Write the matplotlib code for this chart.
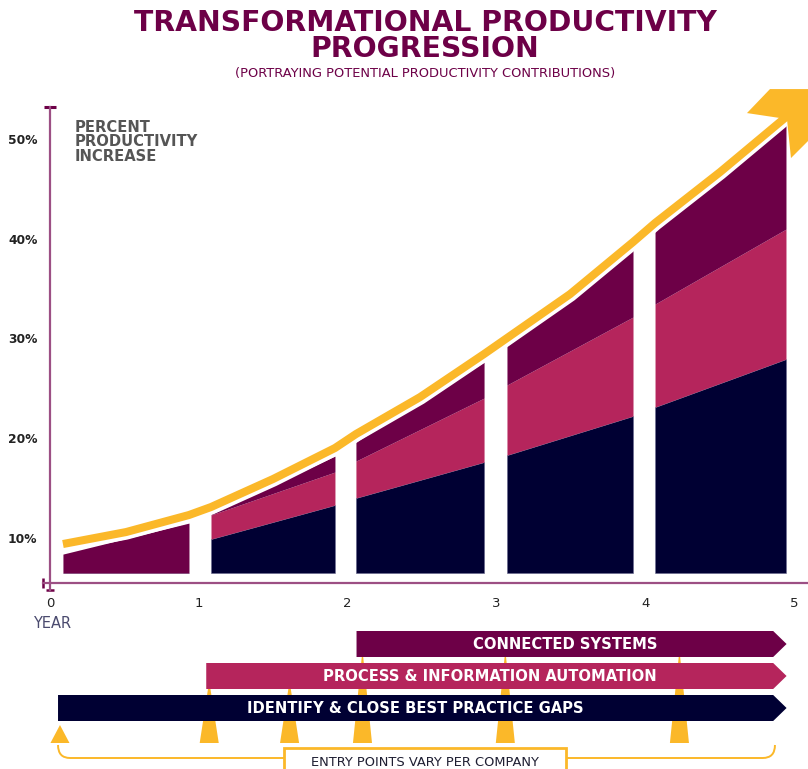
import matplotlib
matplotlib.use("Agg")
import matplotlib.pyplot as plt
import matplotlib.patheffects as pe
from matplotlib.patches import Polygon, Rectangle, PathPatch
from matplotlib.path import Path
from matplotlib.transforms import ScaledTranslation

# Colours
maroon = "#6D0047"
pink = "#B5255C"
navy = "#000033"
yellow = "#FBB829"
axis_col = "#9C4F84"

# Axis ticks
year_ticks = [0, 1, 2, 3, 4, 5]
pct_ticks = [10, 20, 30, 40, 50]
pct_labels = ["10%", "20%", "30%", "40%", "50%"]

# Stacked blocks: one block per year, value of each layer top at left / right edge
base = 6.47
bar_start = [0.087, 1.082, 2.056, 3.071, 4.066]
bar_end = [0.934, 1.915, 2.917, 3.918, 4.946]
gaps_left = [6.47, 9.88, 14.00, 18.30, 23.12]
gaps_right = [6.47, 13.29, 17.60, 22.22, 27.93]
auto_left = [6.47, 12.29, 17.70, 25.33, 33.45]
auto_right = [6.47, 16.60, 24.02, 32.15, 40.97]
conn_left = [8.37, 12.39, 19.61, 29.24, 40.77]
conn_right = [11.48, 18.20, 27.63, 38.87, 51.41]

# Trend arrow
trend_x = [0.087, 0.511, 0.934, 1.082, 1.499, 1.915, 2.056, 2.487, 2.917,
           3.071, 3.495, 3.918, 4.066, 4.503, 4.946]
trend_y = [9.38, 10.58, 12.29, 13.09, 15.90, 19.01, 20.41, 24.12, 28.44,
           30.04, 34.45, 39.67, 41.58, 46.69, 52.21]

# Bottom banners and entry points
banner_labels = ["CONNECTED SYSTEMS", "PROCESS & INFORMATION AUTOMATION",
                 "IDENTIFY & CLOSE BEST PRACTICE GAPS"]
banner_start = [2.06, 1.05, 0.054]
banner_colors = [maroon, pink, navy]
entry_years = [0.067, 1.07, 1.61, 2.10, 3.06, 4.23]
entry_row = [2, 1, 1, 0, 0, 0]

fig = plt.figure(figsize=(8.08, 7.69), dpi=100)

xmin, xmax = -0.047, 5.094
ax = fig.add_axes([43 / 808, 186 / 769, 765 / 808, 476 / 769])
ax.set_xlim(xmin, xmax)
ax.set_ylim(5.47, 53.22)
for s in ax.spines.values():
    s.set_visible(False)

# stacked blocks
for i in range(len(bar_start)):
    xs = [bar_start[i], bar_end[i]]
    ax.fill_between(xs, [base, base], [gaps_left[i], gaps_right[i]],
                    color=navy, lw=0.4, edgecolor="#6a6a90")
    ax.fill_between(xs, [gaps_left[i], gaps_right[i]], [auto_left[i], auto_right[i]],
                    color=pink, lw=0)
    ax.fill_between(xs, [auto_left[i], auto_right[i]], [conn_left[i], conn_right[i]],
                    color=maroon, lw=0)

# trend line with white halo
ax.plot(trend_x, trend_y, color=yellow, lw=5.8, solid_capstyle="butt",
        solid_joinstyle="round", zorder=5, clip_on=False,
        path_effects=[pe.Stroke(linewidth=11, foreground="white", joinstyle="round"),
                      pe.Normal()])

# arrow head (offsets in pixels, relative to end of trend line)
head_px = [(-39, -4), (-16, -28), (74, -28), (5, 41), (1, 2)]
head_in = [(dx / 100, -dy / 100) for dx, dy in head_px]
head = Polygon(head_in, closed=True, facecolor=yellow, edgecolor="none",
               transform=fig.dpi_scale_trans + ScaledTranslation(trend_x[-1], trend_y[-1], ax.transData),
               clip_on=False, zorder=6)
ax.add_patch(head)

# axis lines
ax.plot([0, 0], [4.76, 53.22], color=axis_col, lw=1.6, clip_on=False, zorder=3)
ax.plot([xmin, xmax], [5.47, 5.47], color=axis_col, lw=1.6, clip_on=False, zorder=3)
ax.plot([0], [53.22], marker="_", ms=9, mew=2.2, color=maroon, clip_on=False)
ax.plot([0], [4.76], marker="_", ms=6, mew=1.8, color=maroon, clip_on=False)
ax.plot([xmin], [5.47], marker="|", ms=7, mew=1.8, color=maroon, clip_on=False)

ax.set_yticks(pct_ticks)
ax.set_yticklabels(pct_labels, fontsize=8.8, fontweight="bold", color="#222222")
ax.set_xticks(year_ticks)
ax.set_xticklabels([str(y) for y in year_ticks], fontsize=9.5, color="#222222")
ax.tick_params(axis="y", length=0, pad=4)
ax.tick_params(axis="x", length=0, pad=10)

# titles and labels
fig.text(0.526, 1 - 23 / 769, "TRANSFORMATIONAL PRODUCTIVITY", ha="center", va="center",
         fontsize=20.3, fontweight="bold", color=maroon)
fig.text(0.526, 1 - 49 / 769, "PROGRESSION", ha="center", va="center",
         fontsize=20.3, fontweight="bold", color=maroon)
fig.text(0.526, 1 - 74 / 769, "(PORTRAYING POTENTIAL PRODUCTIVITY CONTRIBUTIONS)",
         ha="center", va="center", fontsize=9.4, color=maroon)
fig.text(75 / 808, 1 - 120 / 769, "PERCENT\nPRODUCTIVITY\nINCREASE", ha="left", va="top",
         fontsize=10.6, fontweight="bold", color="#555555", linespacing=0.95)
fig.text(33 / 808, 1 - 624 / 769, "YEAR", ha="left", va="center", fontsize=10.5,
         color="#4A4A6E")

# bottom panel
ax2 = fig.add_axes([43 / 808, 0, 765 / 808, 144 / 769])
ax2.set_xlim(xmin, xmax)
ax2.set_ylim(769, 625)
ax2.axis("off")

row_top = [631, 663, 695]
row_h = 26
row_apex = [650, 681, 725]
body_end, tip_end = 4.86, 4.95

for yr, r in zip(entry_years, entry_row):
    tri = Polygon([(yr - 0.064, 743), (yr + 0.064, 743), (yr, row_apex[r])],
                  closed=True, facecolor=yellow, edgecolor="none", zorder=1)
    ax2.add_patch(tri)

for i, label in enumerate(banner_labels):
    s = banner_start[i]
    top = row_top[i]
    bot = top + row_h
    mid = top + row_h / 2
    poly = Polygon([(s, top), (body_end, top), (tip_end, mid), (body_end, bot), (s, bot)],
                   closed=True, facecolor=banner_colors[i], edgecolor="none", zorder=2)
    ax2.add_patch(poly)
    ax2.text((s + body_end) / 2, mid + 0.5, label, ha="center", va="center",
             fontsize=10.6, fontweight="bold", color="white", zorder=3)

# bracket
left_path = Path([(0.054, 745), (0.054, 758), (0.135, 758), (1.573, 758)],
                 [Path.MOVETO, Path.CURVE3, Path.CURVE3, Path.LINETO])
right_path = Path([(3.468, 758), (4.79, 758), (4.872, 758), (4.872, 745)],
                  [Path.MOVETO, Path.LINETO, Path.CURVE3, Path.CURVE3])
for p in (left_path, right_path):
    ax2.add_patch(PathPatch(p, facecolor="none", edgecolor=yellow, lw=1.4))

ax2.add_patch(Rectangle((1.573, 748), 3.468 - 1.573, 30, facecolor="white",
                        edgecolor=yellow, lw=2.0, clip_on=False))
ax2.text(2.52, 762, "ENTRY POINTS VARY PER COMPANY", ha="center", va="center",
         fontsize=9.4, color="#1E1E32")

fig.savefig("out.png", dpi=100)
